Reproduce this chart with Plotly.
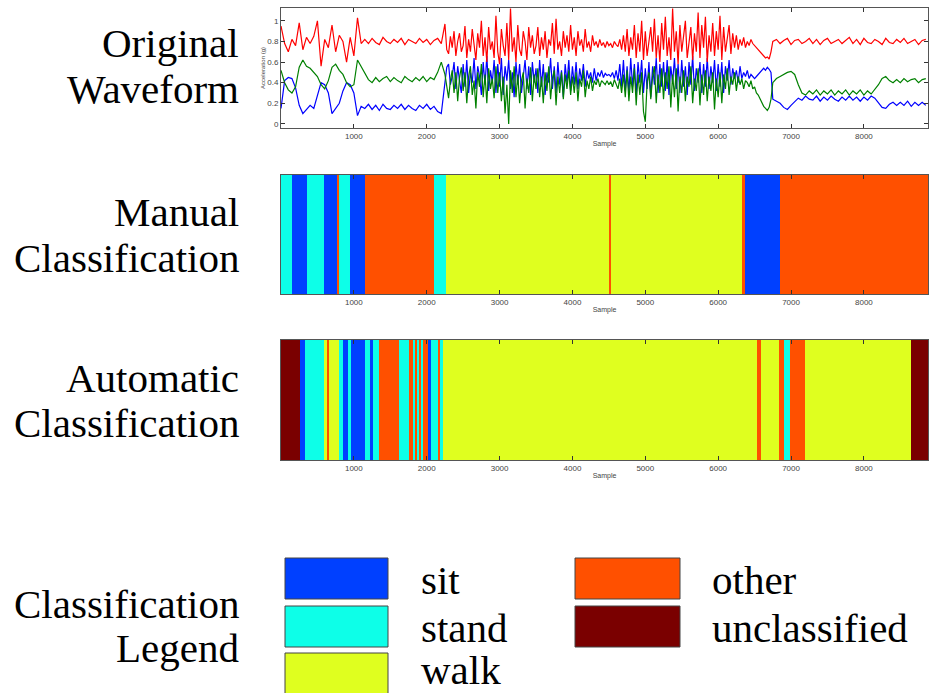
import plotly.graph_objects as go

# ---------------- data ----------------
# waveform: a calm head (every 50 samples from 0),
# the noisy walking part (every 25 samples from 2250) and a calm tail (every 50 samples from 6750)
HEAD_START, HEAD_STEP = 0, 50
NOISY_START, NOISY_STEP = 2250, 25
TAIL_START, TAIL_STEP = 6750, 50

red_head = [
    0.95, 0.78, 0.70, 0.82, 0.76, 0.98, 0.72, 0.84, 0.78, 0.85,
    1.00, 0.56, 0.82, 0.74, 0.96, 0.70, 0.86, 0.80, 0.60, 0.84,
    0.66, 1.03, 0.78, 0.82, 0.78, 0.83, 0.79, 0.77, 0.84, 0.80,
    0.78, 0.82, 0.79, 0.83, 0.77, 0.82, 0.80, 0.78, 0.83, 0.79,
    0.82, 0.77, 0.81, 0.83, 0.78,
]
red_noisy = [
    0.97, 0.72, 0.68, 0.85, 0.74, 0.90, 0.66, 0.80, 0.88, 0.70,
    0.76, 0.95, 0.64, 0.82, 0.70, 0.92, 0.78, 0.62, 0.88, 0.74,
    1.00, 0.66, 0.84, 0.60, 0.94, 0.72, 0.80, 0.64, 1.05, 0.70,
    0.58, 0.92, 0.76, 0.66, 0.98, 0.62, 1.12, 0.70, 0.84, 0.60,
    0.96, 0.72, 0.66, 0.90, 0.80, 0.62, 0.94, 0.74, 0.86, 0.68,
    0.76, 0.94, 0.66, 0.84, 0.72, 0.90, 0.64, 0.82, 0.76, 0.98,
    0.68, 1.02, 0.72, 0.80, 0.66, 0.90, 0.74, 0.86, 0.70, 0.96,
    0.72, 0.84, 0.66, 0.90, 0.76, 0.82, 0.70, 0.92, 0.74, 0.80,
    0.70, 0.86, 0.76, 0.80, 0.74, 0.82, 0.76, 0.79, 0.74, 0.80,
    0.76, 0.78, 0.74, 0.80, 0.77, 0.75, 0.82, 0.72, 0.86, 0.70,
    0.92, 0.66, 0.84, 0.72, 0.96, 0.64, 0.88, 0.70, 1.00, 0.62,
    0.90, 0.66, 0.80, 0.94, 0.70, 1.02, 0.64, 0.86, 0.60, 0.98,
    0.72, 1.04, 0.66, 0.84, 0.62, 1.12, 0.70, 0.90, 0.58, 0.96,
    0.70, 0.86, 1.00, 0.64, 0.80, 0.94, 0.62, 0.88, 0.70, 1.08,
    0.64, 0.96, 0.74, 1.04, 0.60, 0.86, 0.70, 0.98, 0.66, 0.90,
    0.72, 1.05, 0.62, 0.94, 0.70, 0.84, 0.96, 0.68, 0.88, 0.74,
    0.86, 0.72, 0.82, 0.76, 0.84, 0.74, 0.80, 0.76, 0.82, 0.78,
    0.76, 0.74, 0.72, 0.70, 0.68, 0.66, 0.64, 0.65, 0.63, 0.70,
]
red_tail = [
    0.80, 0.82, 0.78, 0.81, 0.83,
    0.77, 0.81, 0.82, 0.78, 0.80, 0.83, 0.78, 0.82, 0.77, 0.81,
    0.83, 0.78, 0.80, 0.82, 0.78, 0.81, 0.84, 0.78, 0.82, 0.77,
    0.83, 0.79, 0.78, 0.82, 0.80, 0.77, 0.83, 0.79, 0.78, 0.82,
    0.79, 0.83, 0.78, 0.80, 0.82, 0.77, 0.81, 0.82,
]

green_head = [
    0.52, 0.40, 0.33, 0.30, 0.36, 0.55, 0.62, 0.56, 0.54, 0.50,
    0.46, 0.38, 0.34, 0.42, 0.55, 0.58, 0.52, 0.48, 0.40, 0.36,
    0.38, 0.62, 0.56, 0.50, 0.43, 0.40, 0.45, 0.41, 0.44, 0.46,
    0.41, 0.45, 0.42, 0.40, 0.46, 0.43, 0.41, 0.45, 0.42, 0.46,
    0.41, 0.45, 0.43, 0.50, 0.60,
]
green_noisy = [
    0.48, 0.35, 0.25, 0.42, 0.52, 0.30, 0.50, 0.22, 0.45, 0.55,
    0.32, 0.50, 0.20, 0.46, 0.56, 0.28, 0.42, 0.15, 0.50, 0.36,
    0.58, 0.26, 0.48, 0.20, 0.54, 0.34, 0.44, 0.25, 0.56, 0.30,
    0.50, 0.22, 0.46, 0.10, 0.38, 0.00, 0.52, 0.30, 0.56, 0.26,
    0.48, 0.20, 0.42, 0.50, 0.15, 0.44, 0.30, 0.55, 0.22, 0.48,
    0.34, 0.54, 0.26, 0.46, 0.20, 0.50, 0.32, 0.56, 0.24, 0.44,
    0.52, 0.18, 0.46, 0.30, 0.50, 0.24, 0.48, 0.34, 0.52, 0.28,
    0.46, 0.30, 0.50, 0.22, 0.44, 0.36, 0.52, 0.26, 0.42, 0.34,
    0.46, 0.32, 0.42, 0.38, 0.44, 0.36, 0.42, 0.40, 0.38, 0.42,
    0.38, 0.41, 0.36, 0.43, 0.38, 0.34, 0.44, 0.30, 0.48, 0.26,
    0.52, 0.22, 0.46, 0.30, 0.54, 0.18, 0.48, 0.28, 0.50, 0.12,
    0.02, 0.40, 0.50, 0.24, 0.46, 0.56, 0.20, 0.48, 0.30, 0.54,
    0.24, 0.50, 0.34, 0.56, 0.16, 0.48, 0.26, 0.54, 0.12, 0.46,
    0.30, 0.52, 0.22, 0.46, 0.36, 0.56, 0.20, 0.44, 0.32, 0.54,
    0.18, 0.48, 0.28, 0.52, 0.22, 0.46, 0.32, 0.50, 0.14, 0.44,
    0.26, 0.50, 0.20, 0.48, 0.34, 0.54, 0.28, 0.46, 0.38, 0.50,
    0.32, 0.46, 0.38, 0.44, 0.34, 0.42, 0.40, 0.36, 0.42, 0.34,
    0.36, 0.30, 0.28, 0.24, 0.20, 0.17, 0.15, 0.13, 0.16, 0.24,
]
green_tail = [
    0.40, 0.44, 0.46, 0.48, 0.50,
    0.51, 0.48, 0.38, 0.30, 0.28, 0.32, 0.29, 0.33, 0.28, 0.32,
    0.29, 0.33, 0.28, 0.32, 0.29, 0.33, 0.28, 0.32, 0.29, 0.33,
    0.28, 0.32, 0.29, 0.33, 0.38, 0.44, 0.46, 0.42, 0.40, 0.43,
    0.40, 0.44, 0.41, 0.43, 0.44, 0.40, 0.43, 0.44,
]

blue_head = [
    0.15, 0.42, 0.45, 0.44, 0.35, 0.18, 0.10, 0.14, 0.18, 0.15,
    0.28, 0.40, 0.38, 0.30, 0.10, 0.15, 0.20, 0.32, 0.40, 0.38,
    0.30, 0.08, 0.17, 0.15, 0.19, 0.14, 0.18, 0.13, 0.19, 0.15,
    0.14, 0.18, 0.15, 0.19, 0.14, 0.18, 0.15, 0.13, 0.18, 0.15,
    0.19, 0.14, 0.17, 0.12, 0.10,
]
blue_noisy = [
    0.40, 0.55, 0.58, 0.38, 0.46, 0.60, 0.34, 0.56, 0.42, 0.30,
    0.58, 0.36, 0.62, 0.30, 0.50, 0.40, 0.64, 0.34, 0.56, 0.46,
    0.28, 0.60, 0.38, 0.66, 0.32, 0.52, 0.40, 0.62, 0.30, 0.58,
    0.36, 0.64, 0.28, 0.56, 0.42, 0.62, 0.34, 0.50, 0.26, 0.60,
    0.38, 0.58, 0.30, 0.44, 0.62, 0.34, 0.56, 0.28, 0.60, 0.40,
    0.54, 0.30, 0.62, 0.36, 0.58, 0.28, 0.50, 0.40, 0.64, 0.34,
    0.56, 0.30, 0.60, 0.38, 0.52, 0.26, 0.58, 0.40, 0.62, 0.32,
    0.56, 0.38, 0.60, 0.34, 0.54, 0.42, 0.58, 0.36, 0.52, 0.44,
    0.50, 0.40, 0.54, 0.42, 0.50, 0.46, 0.52, 0.45, 0.49, 0.47,
    0.48, 0.46, 0.50, 0.44, 0.52, 0.42, 0.58, 0.36, 0.62, 0.32,
    0.56, 0.30, 0.64, 0.36, 0.58, 0.28, 0.60, 0.40, 0.62, 0.30,
    0.54, 0.34, 0.60, 0.26, 0.56, 0.38, 0.64, 0.30, 0.58, 0.36,
    0.60, 0.32, 0.62, 0.28, 0.56, 0.40, 0.64, 0.34, 0.58, 0.30,
    0.62, 0.36, 0.56, 0.28, 0.60, 0.38, 0.66, 0.32, 0.54, 0.40,
    0.60, 0.30, 0.58, 0.36, 0.64, 0.34, 0.56, 0.40, 0.62, 0.32,
    0.58, 0.36, 0.60, 0.30, 0.56, 0.42, 0.62, 0.38, 0.54, 0.44,
    0.52, 0.40, 0.56, 0.44, 0.50, 0.46, 0.52, 0.44, 0.48, 0.46,
    0.44, 0.46, 0.48, 0.50, 0.52, 0.54, 0.52, 0.55, 0.53, 0.50,
]
blue_tail = [
    0.24, 0.22, 0.20, 0.16, 0.14,
    0.18, 0.22, 0.25, 0.23, 0.27, 0.24, 0.23, 0.27, 0.22, 0.26,
    0.23, 0.27, 0.24, 0.22, 0.26, 0.23, 0.27, 0.23, 0.26, 0.22,
    0.26, 0.23, 0.27, 0.25, 0.20, 0.16, 0.15, 0.19, 0.21, 0.18,
    0.21, 0.18, 0.22, 0.17, 0.21, 0.18, 0.21, 0.18,
]

X_MAX = 8880

manual_starts = [0, 147, 352, 585, 777, 800, 941, 1147, 2106, 2270, 4505, 4535, 6325, 6372, 6845]
manual_labels = ["stand", "sit", "stand", "sit", "other", "stand", "sit", "other",
                 "stand", "walk", "other", "walk", "other", "sit", "other"]

auto_starts = [0, 256, 334, 599, 625, 665, 795, 850, 918, 955, 1147, 1215, 1260, 1343,
               1617, 1753, 1818, 1836, 1873, 1890, 1927, 1945, 2018, 2064, 2150, 2182,
               2228, 6532, 6590, 6830, 6908, 6986, 7197, 8640]
auto_labels = ["unclassified", "sit", "stand", "walk", "other", "walk", "stand", "sit",
               "stand", "sit", "stand", "sit", "stand", "other", "stand", "other", "stand",
               "other", "stand", "other", "stand", "other", "sit", "stand", "other", "stand",
               "walk", "other", "walk", "other", "stand", "other", "walk", "unclassified"]

class_names = ["sit", "stand", "walk", "other", "unclassified"]
class_colors = {"sit": "#0040FF", "stand": "#0DFFE8", "walk": "#DFFF1F",
                "other": "#FF5000", "unclassified": "#7A0000"}

x_ticks = [1000, 2000, 3000, 4000, 5000, 6000, 7000, 8000]
y_ticks = [0, 0.2, 0.4, 0.6, 0.8, 1]
y_tick_text = ["0", "0.2", "0.4", "0.6", "0.8", "1"]

# ---------------- figure ----------------
W, H = 930, 693
fig = go.Figure()

def px_x(p):
    return p / W

def px_y(p):
    return 1 - p / H

def sample_axis(head, noisy, tail):
    xs = [HEAD_START + i * HEAD_STEP for i in range(len(head))]
    xs += [NOISY_START + i * NOISY_STEP for i in range(len(noisy))]
    xs += [TAIL_START + i * TAIL_STEP for i in range(len(tail))]
    return xs

series = [
    ("x", blue_head, blue_noisy, blue_tail, "#0000FF"),
    ("y", green_head, green_noisy, green_tail, "#008000"),
    ("z", red_head, red_noisy, red_tail, "#FF0000"),
]
for name, h, n, t, col in series:
    fig.add_trace(go.Scatter(
        x=sample_axis(h, n, t), y=h + n + t, mode="lines",
        line=dict(color=col, width=1.2), xaxis="x", yaxis="y", showlegend=False,
        hoverinfo="skip"))

def add_strip(starts, labels, xa, ya):
    ends = starts[1:] + [X_MAX]
    for s, e, lab in zip(starts, ends, labels):
        fig.add_trace(go.Bar(
            orientation="h", base=[s], x=[e - s], y=[0], width=1,
            marker=dict(color=class_colors[lab], line=dict(width=0)),
            xaxis=xa, yaxis=ya, showlegend=False, hoverinfo="skip"))

add_strip(manual_starts, manual_labels, "x2", "y2")
add_strip(auto_starts, auto_labels, "x3", "y3")

axis_col = "#555555"
sans = "Liberation Sans, Arial, sans-serif"
tick_font = dict(family=sans, size=8, color="#444444")
xdom = [px_x(281), px_x(928)]

def xaxis_cfg():
    return dict(domain=xdom, range=[0, X_MAX], tickvals=x_ticks, ticks="inside", ticklen=4,
                tickcolor="#333333", showline=True, linecolor=axis_col, linewidth=1,
                mirror="ticks", showgrid=False, zeroline=False, tickfont=tick_font,
                title=dict(text="Sample", font=dict(family=sans, size=7, color="#444444"),
                           standoff=1))

fig.update_layout(
    width=W, height=H, margin=dict(l=0, r=0, t=0, b=0),
    paper_bgcolor="white", plot_bgcolor="white", barmode="overlay", bargap=0,
    xaxis=dict(anchor="y", **xaxis_cfg()),
    yaxis=dict(domain=[px_y(128), px_y(8)], range=[-0.04, 1.125], tickvals=y_ticks,
               ticktext=y_tick_text, ticks="inside", ticklen=4, tickcolor="#333333",
               showline=True, linecolor=axis_col, linewidth=1, mirror="ticks",
               showgrid=False, zeroline=False, tickfont=tick_font, anchor="x",
               title=dict(text="Acceleration (g)",
                          font=dict(family=sans, size=6, color="#444444"), standoff=1)),
    xaxis2=dict(anchor="y2", **xaxis_cfg()),
    yaxis2=dict(domain=[px_y(294), px_y(175)], range=[-0.5, 0.5], showticklabels=False,
                ticks="", showline=True, linecolor=axis_col, linewidth=1, mirror=True,
                showgrid=False, zeroline=False, anchor="x2"),
    xaxis3=dict(anchor="y3", **xaxis_cfg()),
    yaxis3=dict(domain=[px_y(460), px_y(340)], range=[-0.5, 0.5], showticklabels=False,
                ticks="", showline=True, linecolor=axis_col, linewidth=1, mirror=True,
                showgrid=False, zeroline=False, anchor="x3"),
)

serif = "Palatino Linotype, Book Antiqua, Palatino, Liberation Serif, serif"
big = dict(family=serif, size=41, color="black")

left_labels = [("Original", 43), ("Waveform", 89), ("Manual", 212), ("Classification", 258),
               ("Automatic", 378), ("Classification", 423), ("Classification", 604),
               ("Legend", 648)]
for txt, yc in left_labels:
    fig.add_annotation(text=txt, x=px_x(241), y=px_y(yc), xref="paper", yref="paper",
                       xanchor="right", yanchor="middle", showarrow=False, font=big)

legend_layout = {
    "sit": (285, 388, 558, 599, 419, 580),
    "stand": (285, 388, 606, 647, 419, 628),
    "walk": (285, 388, 653, 697, 419, 670),
    "other": (575, 680, 558, 599, 710, 580),
    "unclassified": (575, 680, 606, 647, 710, 628),
}
for name in class_names:
    x0, x1, y0, y1, tx, ty = legend_layout[name]
    fig.add_shape(type="rect", xref="paper", yref="paper", x0=px_x(x0), x1=px_x(x1),
                  y0=px_y(y1), y1=px_y(y0), fillcolor=class_colors[name],
                  line=dict(color="#444444", width=1))
    fig.add_annotation(text=name, x=px_x(tx), y=px_y(ty), xref="paper", yref="paper",
                       xanchor="left", yanchor="middle", showarrow=False, font=big)

fig.write_html("out.html", config={"displayModeBar": False},
               post_script="document.body.style.margin='0';document.body.style.overflow='hidden';")
